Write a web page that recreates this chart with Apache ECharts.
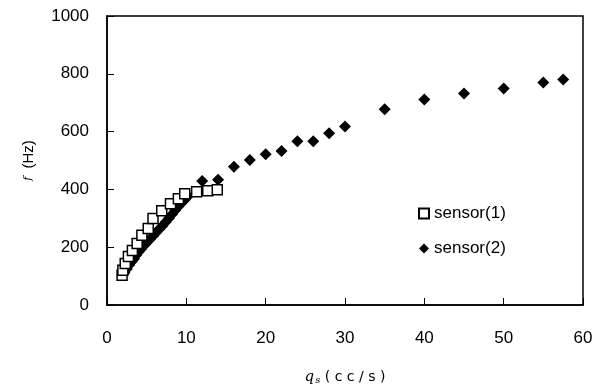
<!DOCTYPE html>
<html><head><meta charset="utf-8">
<script src="https://cdn.jsdelivr.net/npm/echarts@6/dist/echarts.min.js"></script>
<style>html,body{margin:0;padding:0;background:#fff}#c{width:605px;height:390px}</style>
</head><body><div id="c"></div>
<script>
var sensor1X = [1.9, 2.0, 2.3, 2.7, 3.2, 3.8, 4.4, 5.2, 5.8, 6.9, 8.0, 9.0, 9.8, 11.3, 12.7, 13.9];
var sensor1Y = [103, 120, 144, 168, 189, 213, 241, 265, 299, 326, 350, 368, 385, 392, 395, 399];
var sensor2X = [2.2, 2.5, 2.8, 3.1, 3.4, 3.7, 4.0, 4.3, 4.6, 5.0, 5.4, 5.8, 6.2, 6.6, 7.0, 7.4, 7.8, 8.2, 8.6, 9.0, 9.4, 9.8, 10.2, 12.0, 14.0, 16.0, 18.0, 20.0, 22.0, 24.0, 26.0, 28.0, 30.0, 35.0, 40.0, 45.0, 50.0, 55.0, 57.5];
var sensor2Y = [112, 125, 138, 150, 160, 173, 184, 194, 204, 215, 227, 239, 251, 263, 274, 287, 300, 314, 328, 341, 353, 364, 376, 429, 433, 478, 502, 522, 533, 567, 567, 594, 618, 677, 711, 732, 749, 770, 780];
var xTicks = [0, 10, 20, 30, 40, 50, 60];
var yTicks = [0, 200, 400, 600, 800, 1000];

function pairs(xs, ys){ return xs.map(function(x,i){ return [x, ys[i]]; }); }

var chart = echarts.init(document.getElementById('c'), null, {renderer:'canvas'});
var F = 'Liberation Sans, Arial, sans-serif';
chart.setOption({
  animation: false,
  backgroundColor: '#fff',
  grid: {left:107, right:22, top:16, bottom:83, show:true, borderColor:'#000', borderWidth:1.5, backgroundColor:'transparent'},
  legend: {
    orient:'vertical', left:413, top:200, itemGap:18, itemWidth:10, itemHeight:10,
    textStyle:{fontFamily:F, fontSize:17, color:'#000'},
    data:['sensor(1)','sensor(2)']
  },
  xAxis: {
    type:'value', min:xTicks[0], max:xTicks[xTicks.length-1], interval:10,
    axisLine:{show:true, lineStyle:{color:'#000', width:1.5}},
    axisTick:{show:true, inside:true, length:7, lineStyle:{color:'#000'}},
    splitLine:{show:false},
    axisLabel:{fontFamily:F, fontSize:17, color:'#000', margin:25, formatter:function(v){return String(v);}},
    name:'{q|q}{s|s}{t| ( c c / s )}', nameLocation:'middle', nameGap:64,
    nameTextStyle:{rich:{
      q:{fontFamily:'DejaVu Serif', fontStyle:'italic', fontSize:15, color:'#000'},
      s:{fontFamily:'DejaVu Serif', fontStyle:'italic', fontSize:10, color:'#000', verticalAlign:'bottom', padding:[6,0,0,1]},
      t:{fontFamily:'DejaVu Sans', fontSize:14, color:'#000'}
    }}
  },
  yAxis: {
    type:'value', min:yTicks[0], max:yTicks[yTicks.length-1], interval:200,
    axisLine:{show:true, lineStyle:{color:'#000', width:1.5}},
    axisTick:{show:true, inside:true, length:7, lineStyle:{color:'#000'}},
    splitLine:{show:false},
    axisLabel:{fontFamily:F, fontSize:17, color:'#000', margin:18, formatter:function(v){return String(v);}},
    name:'{f|f}{t|  (Hz)}', nameLocation:'middle', nameGap:71, nameRotate:90,
    nameTextStyle:{rich:{
      f:{fontFamily:'DejaVu Serif', fontStyle:'italic', fontSize:11, color:'#000'},
      t:{fontFamily:F, fontSize:15, color:'#000'}
    }}
  },
  series: [
    {name:'sensor(1)', type:'scatter', symbol:'rect', symbolSize:10, z:3,
     itemStyle:{color:'#fff', borderColor:'#000', borderWidth:1.5, opacity:1},
     data: pairs(sensor1X, sensor1Y)},
    {name:'sensor(2)', type:'scatter', symbol:'diamond', symbolSize:12, z:2,
     itemStyle:{color:'#000', opacity:1},
     data: pairs(sensor2X, sensor2Y)}
  ]
});
</script></body></html>
